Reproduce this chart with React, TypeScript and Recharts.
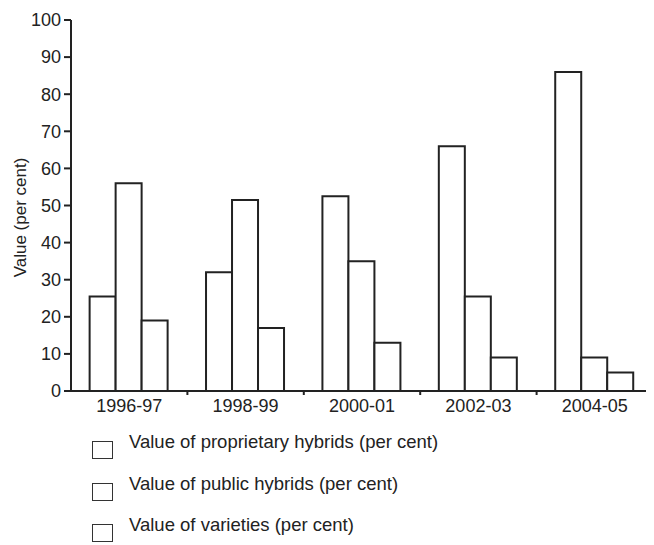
import React from 'react';
import { BarChart, Bar, XAxis, YAxis, Legend, Label } from 'recharts';

const categories = ['1996-97', '1998-99', '2000-01', '2002-03', '2004-05'];
const proprietaryHybrids = [25.5, 32, 52.5, 66, 86];
const publicHybrids = [56, 51.5, 35, 25.5, 9];
const varieties = [19, 17, 13, 9, 5];
const yTicks = [0, 10, 20, 30, 40, 50, 60, 70, 80, 90, 100];
const seriesNames = [
  'Value of proprietary hybrids (per cent)',
  'Value of public hybrids (per cent)',
  'Value of varieties (per cent)',
];

const data = categories.map((c, i) => ({
  category: c,
  proprietary: proprietaryHybrids[i],
  public: publicHybrids[i],
  varieties: varieties[i],
}));

const FONT = '"Liberation Sans", Arial, Helvetica, sans-serif';
const INK = '#222';
const W = 646;
const H = 537;
const MARGIN = { top: 12, right: 1, left: 13, bottom: 124 };
const Y_WIDTH = 50;
const plotWidth = W - MARGIN.left - MARGIN.right - Y_WIDTH;
const band = plotWidth / categories.length;

const XTick = (props: any) => {
  const { x, y, payload, index } = props;
  return (
    <g>
      {index < categories.length - 1 && (
        <line x1={x + band / 2} x2={x + band / 2} y1={y} y2={y + 4} stroke={INK} strokeWidth={2} />
      )}
      <text x={x} y={y + 21} textAnchor="middle" fontFamily={FONT} fontSize={18} fill={INK}>
        {payload.value}
      </text>
    </g>
  );
};

const renderLegend = (props: any) => {
  const { payload } = props;
  return (
    <div style={{ fontFamily: FONT, fontSize: 18.5, color: INK }}>
      {payload.map((p: any, i: number) => (
        <div key={i} style={{ display: 'flex', alignItems: 'flex-start', height: 41.5, whiteSpace: 'nowrap' }}>
          <div
            style={{
              width: 21,
              height: 18,
              border: '1.5px solid #333',
              boxSizing: 'border-box',
              marginTop: 9,
              marginRight: 16,
              flex: 'none',
            }}
          />
          <span style={{ lineHeight: '20px' }}>{p.value}</span>
        </div>
      ))}
    </div>
  );
};

export default function App() {
  return (
    <BarChart width={W} height={H} data={data} margin={MARGIN} barCategoryGap="16%" barGap={0}>
      <XAxis
        dataKey="category"
        tickLine={false}
        tickSize={0}
        tickMargin={0}
        axisLine={{ stroke: INK, strokeWidth: 2 }}
        tick={<XTick />}
        height={30}
        interval={0}
      />
      <YAxis
        type="number"
        domain={[0, 100]}
        ticks={yTicks}
        width={Y_WIDTH}
        tickSize={7}
        tickMargin={3}
        axisLine={{ stroke: INK, strokeWidth: 2 }}
        tickLine={{ stroke: INK, strokeWidth: 2 }}
        tick={{ fontFamily: FONT, fontSize: 18, fill: INK }}
        interval={0}
      >
        <Label
          content={(p: any) => {
            const vb = p.viewBox || {};
            const cx = vb.x - 1;
            const cy = vb.y + vb.height / 2 + 12;
            return (
              <text
                x={cx}
                y={cy}
                transform={`rotate(-90 ${cx} ${cy})`}
                textAnchor="middle"
                dominantBaseline="central"
                fontFamily={FONT}
                fontSize={17}
                fill={INK}
              >
                Value (per cent)
              </text>
            );
          }}
        />
      </YAxis>
      <Legend
        layout="horizontal"
        verticalAlign="middle"
        align="center"
        content={renderLegend}
        wrapperStyle={{ top: 424, left: 84, width: 'auto' }}
      />
      <Bar dataKey="proprietary" name={seriesNames[0]} fill="#fff" stroke={INK} strokeWidth={2} isAnimationActive={false} />
      <Bar dataKey="public" name={seriesNames[1]} fill="#fff" stroke={INK} strokeWidth={2} isAnimationActive={false} />
      <Bar dataKey="varieties" name={seriesNames[2]} fill="#fff" stroke={INK} strokeWidth={2} isAnimationActive={false} />
    </BarChart>
  );
}
